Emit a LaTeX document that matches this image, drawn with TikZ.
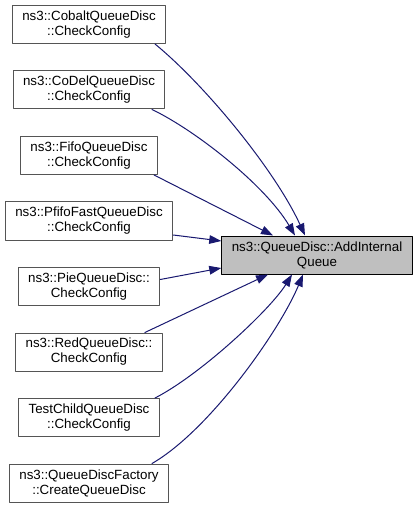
\documentclass[tikz,border=0pt]{standalone}
\usepackage{fontspec}
\setmainfont{Liberation Sans}
\usetikzlibrary{arrows.meta,calc}
\definecolor{edgeblue}{HTML}{191970}
\definecolor{boxgray}{HTML}{BFBFBF}
\definecolor{framegray}{HTML}{555555}
\begin{document}
\begin{tikzpicture}[x=0.75pt,y=-0.75pt,line cap=round,line join=round,
		>={Triangle[length=9pt,width=6.5pt]},font=\fontsize{10}{11.25}\selectfont,
		fn/.style={draw=framegray,fill=white,line width=0.75pt,align=center,inner xsep=7.5pt,inner ysep=0pt,minimum height=28.5pt},
		mainfn/.style={fn,draw=black,fill=boxgray},
		call/.style={->,draw=edgeblue,line width=0.75pt}]
	\useasboundingbox (0,0) rectangle (419,509);
	\node[mainfn] (main) at (317,255) {ns3::QueueDisc::AddInternal\\Queue};
	\foreach \n/\t [count=\i from 0] in {cobalt/{ns3::CobaltQueueDisc\\::CheckConfig},
		codel/{ns3::CoDelQueueDisc\\::CheckConfig},
		fifo/{ns3::FifoQueueDisc\\::CheckConfig},
		pfifo/{ns3::PfifoFastQueueDisc\\::CheckConfig},
		pie/{ns3::PieQueueDisc::\\CheckConfig},
		red/{ns3::RedQueueDisc::\\CheckConfig},
		testchild/{TestChildQueueDisc\\::CheckConfig},
		factory/{ns3::QueueDiscFactory\\::CreateQueueDisc}}{
		\node[fn] (\n) at (89,24.5+65.5*\i) {\t};
	}
	% callers above the main box
	\draw[call] ($(cobalt.south)+(66,0)$) .. controls (205,85) and (275,170) .. ($(main.north)+(-12,0)$);
	\draw[call] ($(codel.south)+(63,0)$) .. controls (195,130) and (265,185) .. ($(main.north)+(-22,0)$);
	\draw[call] ($(fifo.south east)+(-4,0)$) -- ($(main.north)+(-44,0)$);
	\draw[call] ($(pfifo.east)+(0,14)$) -- ($(main.west)+(0,-14)$);
	% callers below the main box
	\draw[call] ($(pie.east)+(0,-7)$) -- ($(main.west)+(0,13)$);
	\draw[call] ($(red.north east)+(-18,0)$) -- ($(main.south)+(-49,0)$);
	\draw[call] ($(testchild.north)+(66,0)$) .. controls (200,375) and (270,310) .. ($(main.south)+(-25,0)$);
	\draw[call] ($(factory.north)+(63,0)$) .. controls (210,430) and (280,330) .. ($(main.south)+(-14,0)$);
\end{tikzpicture}
\end{document}
